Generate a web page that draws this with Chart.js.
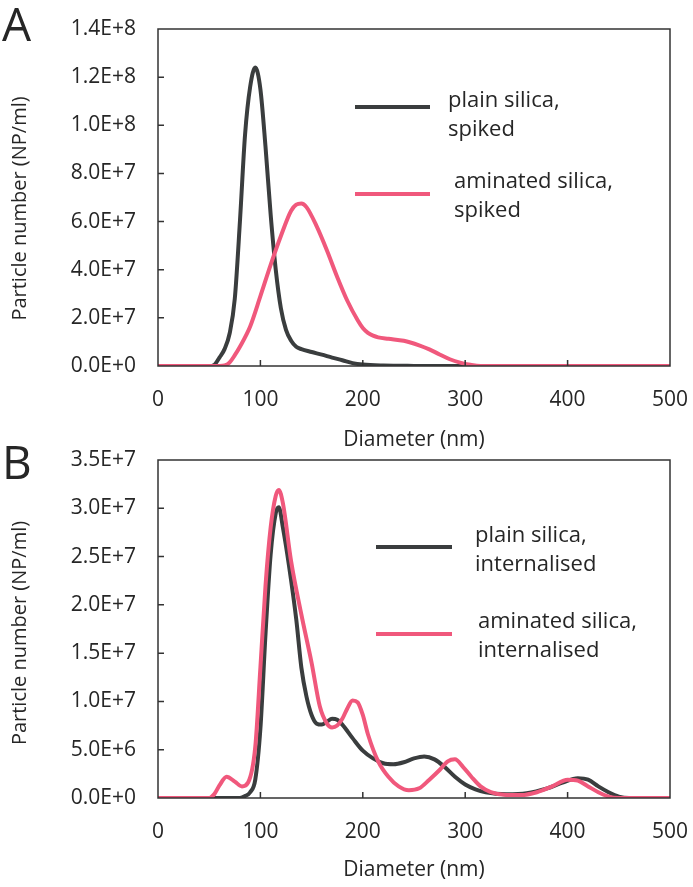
<!DOCTYPE html>
<html>
<head>
<meta charset="utf-8">
<script src="https://cdn.jsdelivr.net/npm/chart.js@4.4.0/dist/chart.umd.min.js"></script>
<style>
  body { margin: 0; background: #fff; overflow: hidden; }
  canvas { position: absolute; left: 0; }
  #chartA { top: 0; }
  #chartB { top: 444px; }
</style>
</head>
<body>
<canvas id="chartA" width="693" height="460"></canvas>
<canvas id="chartB" width="693" height="443"></canvas>
<script>
// ---------- data (values in particles/ml, diameters in nm) ----------
// panel A: spiked
const plainSpikedX = [0, 50, 55, 60, 65, 70, 75, 80, 85, 90, 95, 100, 105, 110, 115, 120, 125, 130, 135, 140, 150, 160, 170, 180, 190, 200, 220, 250, 300, 500];
const plainSpikedY = [0, 0, 0.5e6, 3.5e6, 7e6, 13.6e6, 28e6, 60e6, 96e6, 116e6, 124e6, 115e6, 91e6, 63e6, 40e6, 24e6, 15e6, 10.5e6, 8e6, 7e6, 5.8e6, 4.7e6, 3.5e6, 2.4e6, 1.2e6, 0.6e6, 0.2e6, 0.05e6, 0, 0];
const aminSpikedX = [0, 60, 65, 70, 75, 80, 90, 100, 110, 120, 130, 135, 140, 145, 155, 165, 175, 185, 195, 200, 205, 210, 215, 225, 240, 255, 265, 275, 285, 295, 305, 315, 500];
const aminSpikedY = [0, 0, 0.2e6, 1.5e6, 4.5e6, 8e6, 16.4e6, 29e6, 42e6, 54e6, 64.5e6, 67e6, 67.5e6, 66e6, 58e6, 48e6, 37e6, 27e6, 19e6, 15.8e6, 13.8e6, 12.6e6, 11.9e6, 11.3e6, 10.5e6, 8.6e6, 6.9e6, 4.8e6, 2.8e6, 1.4e6, 0.5e6, 0, 0];

// panel B: internalised
const plainIntX = [0, 80, 85, 90, 95, 100, 105, 110, 115, 118, 122, 128, 135, 140, 145, 150, 155, 160, 165, 170, 175, 180, 190, 200, 210, 220, 230, 240, 250, 260, 270, 280, 290, 300, 310, 320, 340, 360, 380, 395, 410, 420, 430, 440, 450, 460, 500];
const plainIntY = [0, 0, 0.2e6, 0.6e6, 1.9e6, 7.2e6, 17e6, 25.2e6, 29.5e6, 30.1e6, 28e6, 24e6, 18.5e6, 13.5e6, 10.5e6, 8.6e6, 7.7e6, 7.6e6, 7.9e6, 8.2e6, 8.1e6, 7.6e6, 6.2e6, 4.9e6, 4.1e6, 3.6e6, 3.5e6, 3.7e6, 4.1e6, 4.3e6, 4.0e6, 3.2e6, 2.2e6, 1.4e6, 0.9e6, 0.6e6, 0.4e6, 0.5e6, 1.0e6, 1.6e6, 2.05e6, 1.9e6, 1.2e6, 0.6e6, 0.15e6, 0, 0];
const aminIntX = [0, 50, 55, 60, 67, 75, 82, 88, 95, 100, 105, 110, 115, 118, 122, 130, 140, 150, 158, 165, 170, 175, 180, 185, 190, 195, 200, 205, 215, 225, 235, 245, 255, 265, 275, 283, 290, 298, 306, 315, 325, 340, 355, 370, 385, 400, 410, 420, 430, 440, 450, 500];
const aminIntY = [0, 0, 0.4e6, 1.3e6, 2.2e6, 1.7e6, 1.2e6, 1.6e6, 5.3e6, 13.5e6, 22e6, 28e6, 31.3e6, 31.9e6, 30.5e6, 24.5e6, 19e6, 14e6, 9.5e6, 7.7e6, 7.3e6, 7.5e6, 8.2e6, 9.3e6, 10.1e6, 9.9e6, 8.6e6, 6.6e6, 3.8e6, 2.2e6, 1.2e6, 0.8e6, 1.0e6, 1.9e6, 2.9e6, 3.8e6, 4.0e6, 3.2e6, 2.2e6, 1.2e6, 0.6e6, 0.3e6, 0.3e6, 0.6e6, 1.2e6, 1.9e6, 1.8e6, 1.2e6, 0.6e6, 0.15e6, 0, 0];

// axis ranges
const xTicks = [0, 100, 200, 300, 400, 500];
const yMaxA = 1.4e8, yStepA = 2e7;
const yMaxB = 3.5e7, yStepB = 5e6;

// legend labels
const labelsA = [["plain silica,", "spiked"], ["aminated silica,", "spiked"]];
const labelsB = [["plain silica,", "internalised"], ["aminated silica,", "internalised"]];

const DARK = "#3a3d3e";
const PINK = "#f0587c";
const TEXT = "#262626";
const FONT = "'Open Sans', sans-serif";

function pts(xs, ys) {
  return xs.map((x, i) => ({ x: x, y: ys[i] }));
}

// frame, inward ticks, axis titles, panel letter and legend
const decor = {
  id: "decor",
  afterDraw(chart, args, o) {
    const ctx = chart.ctx;
    const a = chart.chartArea;
    const xs = chart.scales.x, ys = chart.scales.y;
    ctx.save();
    ctx.strokeStyle = "#333";
    ctx.lineWidth = 1.5;
    ctx.strokeRect(a.left, a.top, a.right - a.left, a.bottom - a.top);
    // ticks pointing into the plot
    ctx.beginPath();
    xs.ticks.forEach(t => {
      if (t.value <= xs.min || t.value >= xs.max) return;
      const px = xs.getPixelForValue(t.value);
      ctx.moveTo(px, a.bottom);
      ctx.lineTo(px, a.bottom - 6);
    });
    ys.ticks.forEach(t => {
      if (t.value <= ys.min || t.value >= ys.max) return;
      const py = ys.getPixelForValue(t.value);
      ctx.moveTo(a.left, py);
      ctx.lineTo(a.left + 6, py);
    });
    ctx.stroke();

    ctx.fillStyle = TEXT;
    ctx.font = "21px " + FONT;
    ctx.textAlign = "center";
    ctx.textBaseline = "middle";
    ctx.fillText("Diameter (nm)", (a.left + a.right) / 2, a.bottom + o.xTitleGap);

    ctx.save();
    ctx.font = "20px " + FONT;
    ctx.translate(20, (a.top + a.bottom) / 2 + o.yTitleShift);
    ctx.rotate(-Math.PI / 2);
    ctx.fillText("Particle number (NP/ml)", 0, 0);
    ctx.restore();

    ctx.textAlign = "left";
    ctx.textBaseline = "alphabetic";
    ctx.font = "46px " + FONT;
    ctx.fillText(o.letter, 2, o.letterY);

    // legend
    ctx.lineWidth = 4;
    ctx.font = "22px " + FONT;
    o.legend.forEach(item => {
      ctx.strokeStyle = item.color;
      ctx.beginPath();
      ctx.moveTo(item.x0, item.y);
      ctx.lineTo(item.x1, item.y);
      ctx.stroke();
      item.lines.forEach((s, i) => ctx.fillText(s, item.tx, item.ty + i * 29));
    });
    ctx.restore();
  }
};

function makeChart(id, sets, yMax, yStep, axisH, topPad, deco) {
  return new Chart(document.getElementById(id), {
    type: "line",
    data: {
      datasets: sets.map(s => ({
        data: s.data,
        borderColor: s.color,
        borderWidth: 4,
        pointRadius: 0,
        cubicInterpolationMode: "monotone",
        fill: false
      }))
    },
    options: {
      responsive: false,
      animation: false,
      layout: { padding: { top: topPad, right: 23, left: 0, bottom: 0 } },
      plugins: { legend: { display: false }, tooltip: { enabled: false }, decor: deco },
      scales: {
        x: {
          type: "linear",
          min: 0,
          max: 500,
          afterBuildTicks: s => { s.ticks = xTicks.map(v => ({ value: v })); },
          ticks: { color: TEXT, font: { family: FONT, size: 21 }, padding: 21, maxRotation: 0 },
          grid: { display: false, drawTicks: false },
          border: { display: false },
          afterFit: s => { s.height = axisH; s.paddingLeft = 0; s.paddingRight = 0; }
        },
        y: {
          min: 0,
          max: yMax,
          ticks: {
            stepSize: yStep,
            color: TEXT,
            font: { family: FONT, size: 21 },
            padding: 22,
            callback: v => v.toExponential(1).toUpperCase()
          },
          grid: { display: false, drawTicks: false },
          border: { display: false },
          afterFit: s => { s.width = 158; s.paddingTop = 0; s.paddingBottom = 0; }
        }
      }
    },
    plugins: [decor]
  });
}

makeChart("chartA", [
  { data: pts(aminSpikedX, aminSpikedY), color: PINK },
  { data: pts(plainSpikedX, plainSpikedY), color: DARK }
], yMaxA, yStepA, 94, 29, {
  letter: "A", letterY: 41, xTitleGap: 74, yTitleShift: 11,
  legend: [
    { color: DARK, x0: 355, x1: 430, y: 107, tx: 448, ty: 107, lines: labelsA[0] },
    { color: PINK, x0: 355, x1: 430, y: 194, tx: 454, ty: 188, lines: labelsA[1] }
  ]
});

makeChart("chartB", [
  { data: pts(aminIntX, aminIntY), color: PINK },
  { data: pts(plainIntX, plainIntY), color: DARK }
], yMaxB, yStepB, 89, 16, {
  letter: "B", letterY: 35, xTitleGap: 72, yTitleShift: 4,
  legend: [
    { color: DARK, x0: 376, x1: 452, y: 103, tx: 475, ty: 98, lines: labelsB[0] },
    { color: PINK, x0: 376, x1: 452, y: 190, tx: 478, ty: 184, lines: labelsB[1] }
  ]
});
</script>
</body>
</html>
